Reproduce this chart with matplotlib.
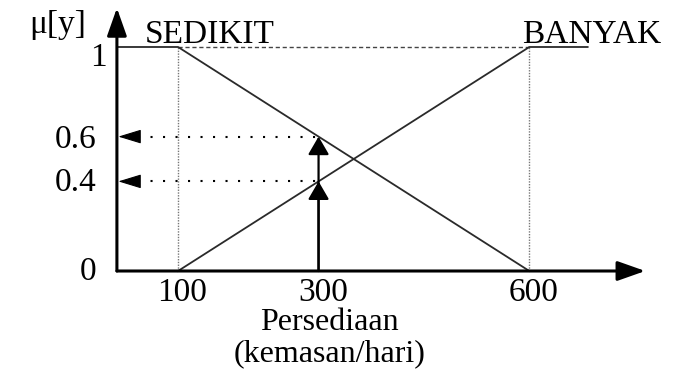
import matplotlib.pyplot as plt

# Membership functions (fuzzy set for "Persediaan")
x_ticks = [100, 300, 600]
x_tick_labels = ["100", "300", "600"]
y_ticks = [0, 0.4, 0.6, 1]
y_tick_labels = ["0", "0.4", "0.6", "1"]

x0 = 13        # where the drawn axes start
x_end = 683    # end of the flat BANYAK part
sedikit_x = [x0, 100, 600]
sedikit_y = [1, 1, 0]
banyak_x = [100, 600, x_end]
banyak_y = [0, 1, 1]

x_input = 300
mu_values = [0.6, 0.4]

plt.rcParams["font.family"] = ["Liberation Serif", "DejaVu Serif"]
fs = 24

fig = plt.figure(figsize=(6.87, 3.69), dpi=100)
ax = fig.add_axes([0, 0, 1, 1])
ax.set_xlim(-153.4, 824.4)
ax.set_ylim(-0.4375, 1.2098)
ax.axis("off")

# axes with arrows
ax.annotate("", xy=(765, 0), xytext=(x0, 0),
            arrowprops=dict(arrowstyle="-|>,head_length=0.85,head_width=0.3",
                            mutation_scale=20, color="k", lw=2.2,
                            shrinkA=0, shrinkB=0))
ax.annotate("", xy=(x0, 1.174), xytext=(x0, 0),
            arrowprops=dict(arrowstyle="-|>,head_length=0.85,head_width=0.3",
                            mutation_scale=20, color="k", lw=2.2,
                            shrinkA=0, shrinkB=0))

# guide lines
ax.plot([100, 600], [1, 1], color="#444444", lw=1.0, linestyle=(0, (3, 2)))
for xv in [100, 600]:
    ax.plot([xv, xv], [0, 1], color="#777777", lw=1.0, linestyle=(0, (1, 1)))

# membership functions
ax.plot(sedikit_x, sedikit_y, color="#2a2a2a", lw=1.3)
ax.plot(banyak_x, banyak_y, color="#2a2a2a", lw=1.3)

# input value arrows
for mu in mu_values:
    ax.annotate("", xy=(x_input, mu), xytext=(x_input, 0),
                arrowprops=dict(arrowstyle="-|>,head_length=0.55,head_width=0.32",
                                mutation_scale=20, color="k", lw=1.6,
                                shrinkA=0, shrinkB=0))
    ax.plot([x0 + 30, x_input], [mu, mu], color="k", lw=1.5,
            linestyle=(0, (1, 5)))
    ax.annotate("", xy=(x0 + 2, mu), xytext=(x0 + 30, mu),
                arrowprops=dict(arrowstyle="-|>,head_length=0.72,head_width=0.22",
                                mutation_scale=20, color="k", lw=0.8,
                                shrinkA=0, shrinkB=0))

# tick labels
for xv, lab in zip(x_ticks, x_tick_labels):
    ax.text(xv + 6, -0.134, lab, ha="center", va="baseline", fontsize=fs)
y_base = {0: -0.04, 0.4: 0.355, 0.6: 0.549, 1: 0.915}
for yv, lab in zip(y_ticks, y_tick_labels):
    xr = -1 if yv == 1 else -16
    ax.text(xr, y_base[yv], lab, ha="right", va="baseline", fontsize=fs)

# labels
ax.text(-72, 1.0625, "μ[y]", ha="center", va="baseline", fontsize=fs)
ax.text(145.6, 1.018, "SEDIKIT", ha="center", va="baseline", fontsize=fs)
ax.text(688, 1.018, "BANYAK", ha="center", va="baseline", fontsize=fs)
ax.text(316, -0.263, "Persediaan", ha="center", va="baseline", fontsize=23)
ax.text(316, -0.402, "(kemasan/hari)", ha="center", va="baseline", fontsize=23)

fig.savefig("out.png", dpi=100)
